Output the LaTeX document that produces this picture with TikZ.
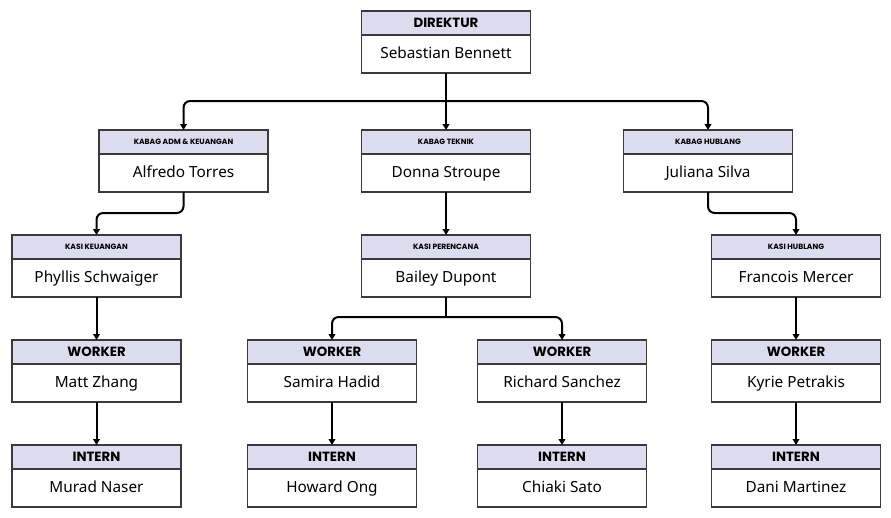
\documentclass[tikz,border=0pt]{standalone}
\usepackage{fontspec}
\setmainfont{Noto Sans}
\newfontfamily\hdfont{Poppins}
\usetikzlibrary{positioning, arrows.meta}
\definecolor{hdfill}{HTML}{DDDBEE}
\definecolor{boxline}{HTML}{3A3A3A}

\begin{document}
\begin{tikzpicture}[
  x=0.75pt, y=-0.75pt,
  hd/.style={draw=boxline, line width=0.8pt, fill=hdfill, minimum width=126.75pt,
    minimum height=18pt, inner sep=0pt, outer sep=0pt, anchor=north,
    text height=7.2pt, text depth=0pt,
    font=\hdfont\bfseries\fontsize{10}{11}\selectfont},
  hdsm/.style={hd, text height=4.2pt, text depth=0pt,
    font=\hdfont\bfseries\fontsize{5.7}{6.5}\selectfont},
  body/.style={draw=boxline, line width=0.8pt, fill=white, minimum width=126.75pt,
    minimum height=28.5pt, inner sep=0pt, outer sep=0pt,
    text height=8.6pt, text depth=1.2pt,
    font=\fontsize{11.5}{13}\selectfont},
  arr/.style={-{Triangle[length=4.5pt, width=5pt]}, line width=1.5pt, rounded corners=5pt}
]
  \useasboundingbox (0,0) rectangle (891,517);

  \node[hd] (dirT) at (446,11) {DIREKTUR};
  \node[body, below=0pt of dirT] (dir) {Sebastian Bennett};

  \node[hdsm] (admT) at (183.5,130) {KABAG ADM \& KEUANGAN};
  \node[body, below=0pt of admT] (adm) {Alfredo Torres};
  \node[hdsm] (tekT) at (446,130) {KABAG TEKNIK};
  \node[body, below=0pt of tekT] (tek) {Donna Stroupe};
  \node[hdsm] (hubT) at (708,130) {KABAG HUBLANG};
  \node[body, below=0pt of hubT] (hub) {Juliana Silva};

  \node[hdsm] (keuT) at (96.5,235) {KASI KEUANGAN};
  \node[body, below=0pt of keuT] (keu) {Phyllis Schwaiger};
  \node[hdsm] (perT) at (446,235) {KASI PERENCANA};
  \node[body, below=0pt of perT] (per) {Bailey Dupont};
  \node[hdsm] (hblT) at (796,235) {KASI HUBLANG};
  \node[body, below=0pt of hblT] (hbl) {Francois Mercer};

  \node[hd] (wrkaT) at (96.5,340) {WORKER};
  \node[body, below=0pt of wrkaT] (wrka) {Matt Zhang};
  \node[hd] (wrkbT) at (332,340) {WORKER};
  \node[body, below=0pt of wrkbT] (wrkb) {Samira Hadid};
  \node[hd] (wrkcT) at (562,340) {WORKER};
  \node[body, below=0pt of wrkcT] (wrkc) {Richard Sanchez};
  \node[hd] (wrkdT) at (796,340) {WORKER};
  \node[body, below=0pt of wrkdT] (wrkd) {Kyrie Petrakis};

  \node[hd] (inaT) at (96.5,445) {INTERN};
  \node[body, below=0pt of inaT] (ina) {Murad Naser};
  \node[hd] (inbT) at (332,445) {INTERN};
  \node[body, below=0pt of inbT] (inb) {Howard Ong};
  \node[hd] (incT) at (562,445) {INTERN};
  \node[body, below=0pt of incT] (inc) {Chiaki Sato};
  \node[hd] (indT) at (796,445) {INTERN};
  \node[body, below=0pt of indT] (ind) {Dani Martinez};

  \path (dir.south) ++(0,28) coordinate (jtop);
  \path (per.south) ++(0,20) coordinate (jper);

  \draw[arr] (dir.south) -- (tekT.north);
  \draw[arr] (jtop) -| (admT.north);
  \draw[arr] (jtop) -| (hubT.north);

  \draw[arr] (adm.south) -- ++(0,21) -| (keuT.north);
  \draw[arr] (tek.south) -- (perT.north);
  \draw[arr] (hub.south) -- ++(0,21) -| (hblT.north);

  \draw[line width=1.5pt] (per.south) -- (jper);
  \draw[arr] (jper) -| (wrkbT.north);
  \draw[arr] (jper) -| (wrkcT.north);
  \draw[arr] (keu.south) -- (wrkaT.north);
  \draw[arr] (hbl.south) -- (wrkdT.north);

  \draw[arr] (wrka.south) -- (inaT.north);
  \draw[arr] (wrkb.south) -- (inbT.north);
  \draw[arr] (wrkc.south) -- (incT.north);
  \draw[arr] (wrkd.south) -- (indT.north);
\end{tikzpicture}
\end{document}
